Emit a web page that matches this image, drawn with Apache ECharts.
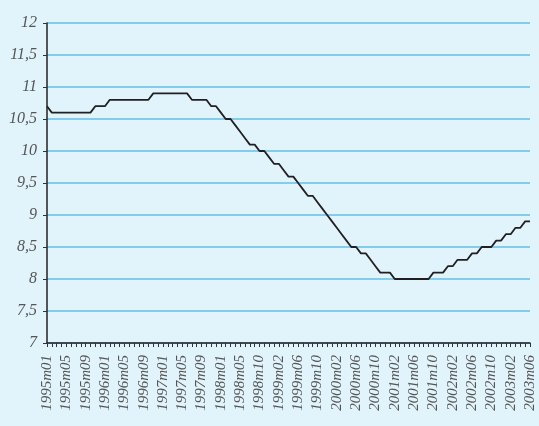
<html>
<head>
    <meta charset="utf-8">
    <title>chart</title>
    <script src="https://cdn.jsdelivr.net/npm/echarts@6.0.0/dist/echarts.min.js"></script>
    <style>
        html, body { margin: 0; padding: 0; background: #e1f3fb; }
    </style>
</head>
<body>
    <div id="chartmain" style="width:539px; height:426px;"></div>

    <script type="text/javascript">

        // months shown on the axis (one month is absent from the series in 1998)
        var firstYear = 1995;
        var lastYear = 2003;
        var lastMonth = 6;
        var skipped = ['1998m08'];

        var months = [];
        for (var y = firstYear; y <= lastYear; y++) {
            for (var m = 1; m <= 12; m++) {
                if (y == lastYear && m > lastMonth) break;
                var lab = y + 'm' + (m < 10 ? '0' + m : '' + m);
                if (skipped.indexOf(lab) < 0) months.push(lab);
            }
        }

        // series values
        var rate = [
            10.7, 10.6, 10.6, 10.6, 10.6, 10.6, 10.6, 10.6, 10.6, 10.6,
            10.7, 10.7, 10.7, 10.8, 10.8, 10.8, 10.8, 10.8, 10.8, 10.8,
            10.8, 10.8, 10.9, 10.9, 10.9, 10.9, 10.9, 10.9, 10.9, 10.9,
            10.8, 10.8, 10.8, 10.8, 10.7, 10.7, 10.6, 10.5, 10.5, 10.4,
            10.3, 10.2, 10.1, 10.1, 10.0, 10.0, 9.9, 9.8, 9.8, 9.7,
            9.6, 9.6, 9.5, 9.4, 9.3, 9.3, 9.2, 9.1, 9.0, 8.9,
            8.8, 8.7, 8.6, 8.5, 8.5, 8.4, 8.4, 8.3, 8.2, 8.1,
            8.1, 8.1, 8.0, 8.0, 8.0, 8.0, 8.0, 8.0, 8.0, 8.0,
            8.1, 8.1, 8.1, 8.2, 8.2, 8.3, 8.3, 8.3, 8.4, 8.4,
            8.5, 8.5, 8.5, 8.6, 8.6, 8.7, 8.7, 8.8, 8.8, 8.9,
            8.9
        ];

        var labelFont = {
            fontFamily: 'Liberation Serif',
            fontStyle: 'italic',
            color: '#555'
        };

        var myChart = echarts.init(document.getElementById('chartmain'));

        myChart.setOption({
            backgroundColor: '#e1f3fb',
            animation: false,
            grid: {
                left: 47,
                right: 9,
                top: 23,
                bottom: 83
            },
            xAxis: {
                type: 'category',
                data: months,
                boundaryGap: false,
                axisLine: {
                    lineStyle: { color: '#222', width: 1.5 }
                },
                axisTick: {
                    interval: 0,
                    length: 4,
                    lineStyle: { color: '#333' }
                },
                axisLabel: {
                    interval: 3,
                    rotate: 90,
                    margin: 12,
                    fontSize: 15,
                    fontFamily: labelFont.fontFamily,
                    fontStyle: labelFont.fontStyle,
                    color: labelFont.color
                },
                splitLine: { show: false }
            },
            yAxis: {
                type: 'value',
                min: 7,
                max: 12,
                interval: 0.5,
                axisLine: {
                    show: true,
                    lineStyle: { color: '#222', width: 1.5 }
                },
                axisTick: {
                    show: true,
                    length: 4,
                    lineStyle: { color: '#333' }
                },
                axisLabel: {
                    margin: 10,
                    fontSize: 16,
                    fontFamily: labelFont.fontFamily,
                    fontStyle: labelFont.fontStyle,
                    color: labelFont.color,
                    formatter: function (v) {
                        return String(v).replace('.', ',');
                    }
                },
                splitLine: {
                    show: true,
                    lineStyle: { color: '#62c0ea', width: 1.5 }
                }
            },
            series: [
                {
                    type: 'line',
                    data: rate,
                    symbol: 'none',
                    lineStyle: { color: '#231f20', width: 1.8 }
                }
            ]
        });

    </script>
</body>
</html>
